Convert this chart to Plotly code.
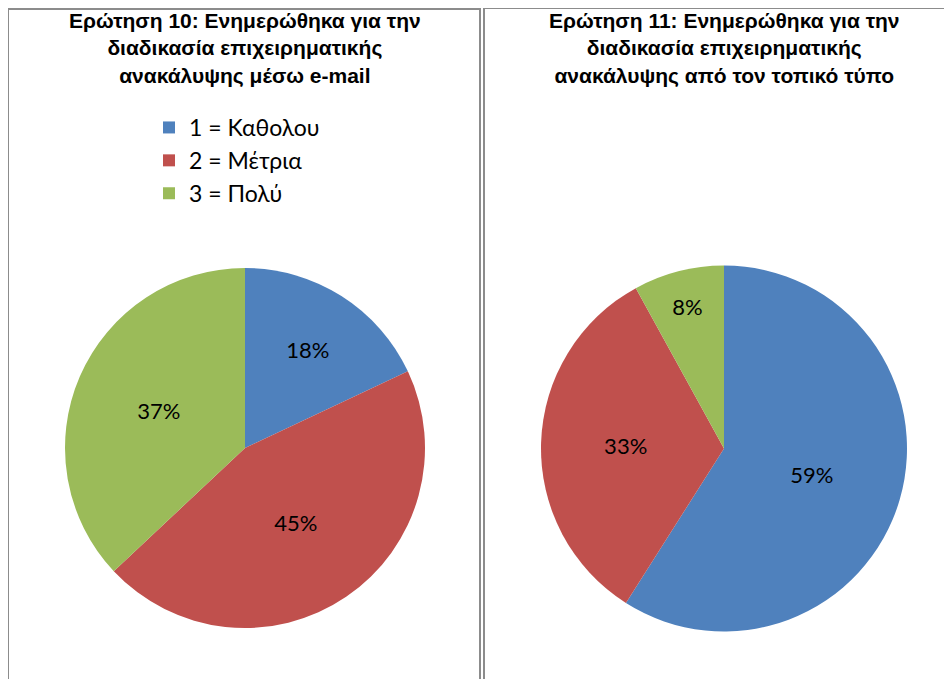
import plotly.graph_objects as go

labels = ["1 = Καθολου", "2 = Μέτρια", "3 = Πολύ"]
q10_values = [18, 45, 37]
q11_values = [59, 33, 8]
colors = ["#4F81BD", "#C0504D", "#9BBB59"]

q10_title = ["Ερώτηση 10: Ενημερώθηκα για την", "διαδικασία επιχειρηματικής", "ανακάλυψης μέσω e-mail"]
q11_title = ["Ερώτηση 11: Ενημερώθηκα για την", "διαδικασία επιχειρηματικής", "ανακάλυψης από τον τοπικό τύπο"]

W, H = 952, 679
OFF = 8  # page body margin


def px_x(v):
    return (v - OFF) / W


def px_y(v):
    return 1 - (v - OFF) / H


def bold_lines(lines):
    return "<br>".join("<b>" + s + "</b>" for s in lines)


fig = go.Figure()

fig.add_trace(go.Pie(
    labels=labels, values=q10_values, sort=False, direction="clockwise", rotation=0,
    marker=dict(colors=colors), textinfo="percent", texttemplate="%{percent:.0%}",
    textposition="inside", insidetextorientation="horizontal",
    textfont=dict(family="Lato", size=22, color="black"),
    domain=dict(x=[px_x(65), px_x(425)], y=[px_y(628), px_y(268)]),
    legend="legend", hoverinfo="label+percent",
))
fig.add_trace(go.Pie(
    labels=labels, values=q11_values, sort=False, direction="clockwise", rotation=0,
    marker=dict(colors=colors), textinfo="percent", texttemplate="%{percent:.0%}",
    textposition="inside", insidetextorientation="horizontal",
    textfont=dict(family="Lato", size=22, color="black"),
    domain=dict(x=[px_x(541), px_x(907)], y=[px_y(632), px_y(265)]),
    legend="legend2", hoverinfo="label+percent",
))

legend_style = dict(font=dict(family="Lato", size=23, color="black"),
                    bgcolor="rgba(0,0,0,0)", xanchor="left", yanchor="top",
                    itemclick=False, itemdoubleclick=False)

fig.update_layout(
    width=W, height=H,
    margin=dict(l=0, r=0, t=0, b=0),
    paper_bgcolor="white", plot_bgcolor="white",
    legend=dict(x=px_x(149), y=px_y(106), **legend_style),
    legend2=dict(x=px_x(630), y=px_y(106), **legend_style),
    shapes=[
        dict(type="rect", xref="paper", yref="paper", x0=px_x(8), x1=px_x(480),
             y0=-0.05, y1=px_y(9), line=dict(color="#8C8C8C", width=2)),
        dict(type="rect", xref="paper", yref="paper", x0=px_x(484), x1=1.05,
             y0=-0.05, y1=px_y(8), line=dict(color="#8C8C8C", width=2)),
    ],
    annotations=[
        dict(text=bold_lines(q10_title), x=px_x(245), y=px_y(7), xref="paper", yref="paper",
             xanchor="center", yanchor="top", showarrow=False, align="center",
             font=dict(family="Arial", size=21, color="black")),
        dict(text=bold_lines(q11_title), x=px_x(724), y=px_y(7), xref="paper", yref="paper",
             xanchor="center", yanchor="top", showarrow=False, align="center",
             font=dict(family="Arial", size=21, color="black")),
    ],
)

fig.write_html("out.html")
